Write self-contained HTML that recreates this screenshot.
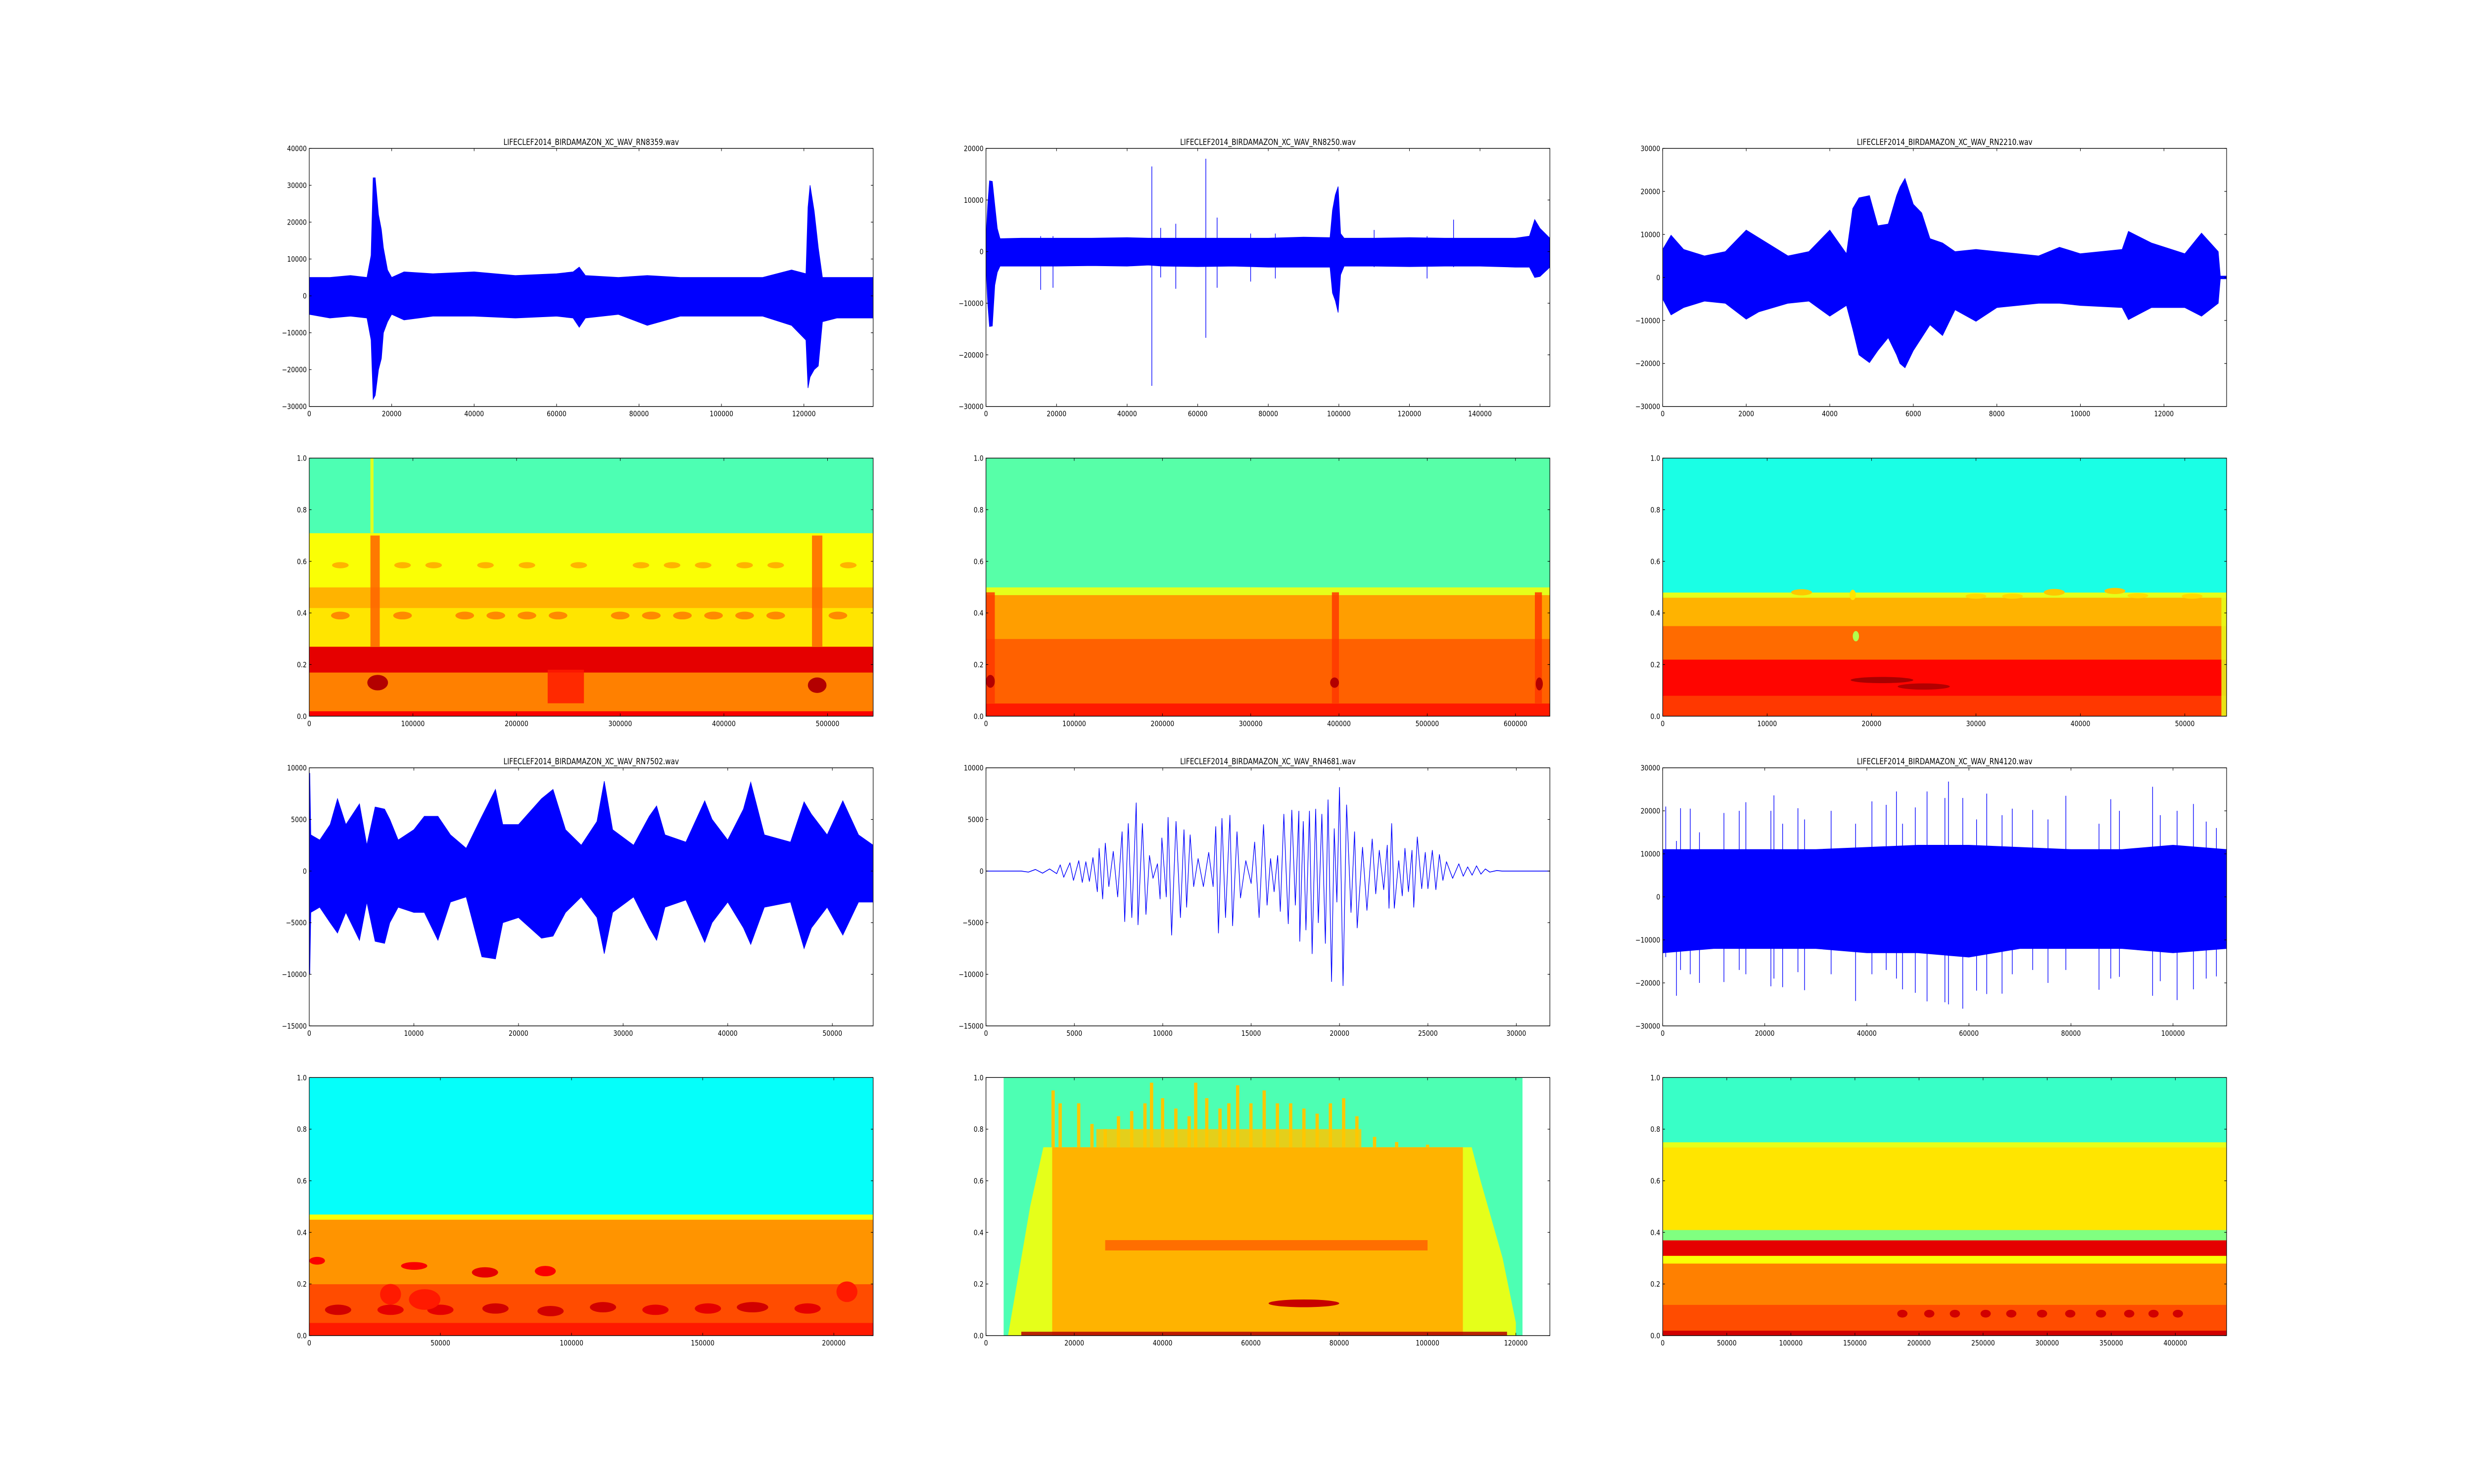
<!DOCTYPE html>
<html><head><meta charset="utf-8"><title>Bird audio waveforms and spectrograms</title>
<style>
html,body{margin:0;padding:0;background:#fff;overflow:hidden;width:100%;height:100%;}
svg{display:block;position:absolute;left:0;top:0;width:100vw;height:100vh;}
text{font-family:"DejaVu Sans","Liberation Sans",sans-serif;fill:#000;}
</style></head>
<body>
<svg id="fig" xmlns="http://www.w3.org/2000/svg" viewBox="0 0 6000 3000" preserveAspectRatio="none">
<rect x="0" y="0" width="6000" height="3000" fill="#fff"/>
</svg>
<script>
// ---------- Waveform data: [x, max, min] envelopes ----------
const w1Env = [[0,5000,-5000],[5000,5000,-6000],[10000,5500,-5500],[14000,5000,-6000],[15000,11000,-12000],[15500,32000,-28000],[16000,32000,-27000],[16800,22000,-20000],[17500,18000,-17000],[18000,13000,-10000],[19000,7000,-7000],[20000,5000,-5000],[23000,6500,-6500],[30000,6000,-5500],[40000,6500,-5500],[50000,5500,-6000],[60000,6000,-5500],[64000,6500,-6000],[65500,7800,-8500],[67000,5500,-6000],[75000,5000,-5000],[82000,5500,-8000],[90000,5000,-5500],[100000,5000,-5500],[110000,5000,-5500],[117000,7000,-8000],[120500,6000,-12000],[121000,24000,-25000],[121500,30000,-22000],[122500,23000,-20000],[123500,13000,-19000],[124500,5000,-7000],[128000,5000,-6000],[136800,5000,-6000]];
const w1Spikes = [];
const w2Env = [[0,2500,-2500],[500,9000,-10000],[1000,13700,-14500],[1800,13600,-14400],[2500,9000,-6500],[3200,4500,-4000],[4000,2500,-2800],[10000,2600,-2800],[20000,2600,-2800],[30000,2600,-2700],[40000,2700,-2800],[46000,2600,-2600],[50000,2600,-2800],[60000,2600,-2900],[70000,2600,-2800],[80000,2600,-3000],[90000,2800,-3000],[97500,2700,-3000],[98200,8000,-8000],[99000,11000,-9500],[99800,12600,-11800],[100500,3500,-4500],[101500,2600,-2800],[110000,2600,-2800],[120000,2700,-2900],[130000,2600,-2800],[140000,2600,-2800],[150000,2600,-3000],[154000,3000,-3000],[155500,6200,-5000],[157000,4500,-4800],[159800,2600,-3000]];
const w2Spikes = [[15500,3000,-7400],[19000,3000,-7000],[47000,16500,-26000],[49500,4600,-5000],[53800,5400,-7200],[62300,18000,-16700],[65500,6600,-7000],[75000,3500,-5800],[82000,3500,-5200],[110000,4200,-3000],[132500,6200,-3000],[125000,3000,-5200]];
const w3Env = [[0,6500,-5000],[200,9800,-8700],[500,6500,-7000],[1000,5000,-5500],[1500,6000,-6000],[2000,11000,-9700],[2300,9200,-8000],[3000,5000,-6000],[3500,6000,-5500],[4000,11000,-9000],[4400,5500,-6500],[4550,16000,-12000],[4700,18500,-18000],[4950,19000,-19800],[5150,12000,-17000],[5400,12400,-14000],[5600,19000,-18000],[5680,21000,-20000],[5800,23000,-21000],[6000,17000,-17000],[6200,15000,-14000],[6400,9000,-11000],[6700,8000,-13500],[7000,6000,-7500],[7500,6500,-10200],[8000,6000,-7000],[9000,5000,-6000],[9500,7000,-6000],[10000,5500,-6500],[11000,6500,-7000],[11150,10700,-9800],[11700,8000,-7000],[12500,5500,-7000],[12900,10300,-9000],[13300,6000,-6000],[13350,300,-300],[13500,300,-300]];
const w3Spikes = [];
const w4Env = [[0,3000,-5000],[50,9500,-10000],[150,3500,-4000],[1000,3000,-3500],[2000,4500,-5000],[2700,7000,-6000],[3500,4500,-4000],[4800,6500,-6700],[5500,2500,-3000],[6300,6200,-6800],[7200,6000,-7000],[7700,5000,-5000],[8500,3000,-3500],[10000,4000,-4000],[11000,5300,-4000],[12300,5300,-6700],[13500,3500,-3000],[15000,2200,-2500],[16500,5300,-8300],[17800,7900,-8500],[18500,4500,-5000],[20000,4500,-4500],[22200,7000,-6500],[23300,7900,-6300],[24500,4000,-4000],[26000,2500,-2500],[27500,4800,-4500],[28200,8700,-8000],[29000,4000,-4000],[31000,2500,-2500],[32500,5300,-5500],[33200,6300,-6700],[34000,3500,-3500],[36000,2800,-2800],[37800,6800,-6900],[38500,5000,-5000],[40000,3000,-3000],[41500,6000,-5500],[42200,8600,-7100],[43500,3500,-3500],[46000,2800,-3000],[47300,6700,-7500],[48000,5500,-5500],[49500,3500,-3500],[51000,6800,-6200],[52500,3500,-3000],[53900,2500,-3000]];
const w4Spikes = [];
// RN4681: smooth signal as extrema [x, value]
const w5X = [0,2000,2400,2800,3200,3600,4000,4200,4400,4750,4950,5250,5450,5650,5850,6050,6300,6400,6600,6750,6950,7200,7450,7700,7850,8050,8250,8500,8600,8850,9050,9250,9450,9700,9850,9950,10200,10300,10500,10750,11000,11200,11350,11550,11750,12000,12300,12600,12850,13000,13150,13350,13550,13800,13950,14200,14400,14700,15000,15200,15450,15700,15900,16100,16300,16500,16650,16850,17100,17300,17500,17700,17750,17950,18100,18300,18450,18650,18800,19000,19200,19350,19550,19700,19850,20000,20200,20400,20650,20850,21000,21300,21550,21850,22050,22250,22500,22700,22800,22950,23100,23350,23550,23700,23900,24100,24200,24400,24650,24850,25000,25250,25450,25650,25850,26050,26400,26750,27000,27250,27500,27750,28000,28250,28500,28900,29200,32000];
const w5Y = [0,0,-100,150,-200,200,-250,600,-600,800,-900,1000,-1100,900,-1000,1300,-2000,2200,-2700,2700,-1500,1900,-2500,3800,-4900,4600,-4500,6600,-5200,4600,-4200,1500,-700,700,-2700,3200,-2500,5200,-6200,4800,-4500,4000,-3500,3500,-1500,1200,-1500,1800,-1500,4300,-6000,5100,-4500,5400,-5300,3800,-2600,1000,-1200,2800,-4500,4500,-3300,1200,-2000,1500,-3900,5500,-5100,5900,-3300,5800,-6800,4800,-5700,5800,-8000,6000,-5000,5500,-7000,6900,-10700,4100,-3000,8100,-11100,6400,-4000,3800,-5500,2300,-3800,3100,-2200,2000,-1800,2500,-3600,4600,-3600,1000,-2400,2200,-2000,2000,-3500,3300,-1700,1800,-1700,2000,-1800,1600,-900,900,-700,700,-500,400,-400,500,-300,200,-100,50,0,0];
const w6Env = [[0,11000,-13000],[10000,11000,-12000],[20000,11000,-12000],[30000,11000,-12000],[40000,11500,-13000],[50000,12000,-13000],[60000,12000,-14000],[70000,11500,-12000],[80000,11000,-12000],[90000,11000,-12000],[100000,12000,-13000],[110500,11000,-12000]];
const w6Spikes = [[600,21000,-14000],[2700,13000,-23000],[3500,20600,-17000],[5400,20500,-18000],[7200,15000,-20000],[12000,19500,-19800],[15000,20000,-17000],[16300,22000,-18000],[21200,20000,-20800],[21800,23600,-19000],[23500,17000,-21000],[26500,20600,-17500],[27800,18000,-21700],[33000,20000,-18000],[37800,17000,-24200],[41000,22200,-18000],[43800,21400,-17000],[45800,24500,-19000],[47000,17000,-21500],[49500,20800,-22300],[51800,24500,-24300],[55300,23000,-24500],[56000,26800,-25000],[58800,23000,-26000],[61500,18000,-21800],[63500,24000,-22600],[66500,19000,-22500],[68500,20500,-18000],[72500,20200,-17000],[75500,18000,-20000],[79000,23500,-17000],[85500,17000,-21600],[87800,22700,-19000],[89500,20000,-18600],[96000,25600,-23000],[97500,19000,-19600],[100800,20000,-24000],[104000,21600,-21500],[106500,17500,-19000],[108500,16000,-18500]];

// ---------- Spectrogram data: bands [y0,y1,level], rects [x0,x1,y0,y1,level], blobs [x,y,rx,ry,level] ----------
const s1Bands = [[0,0.02,0.88],[0.02,0.17,0.75],[0.17,0.27,0.9],[0.27,0.42,0.65],[0.42,0.5,0.7],[0.5,0.71,0.62],[0.71,1.0,0.45]];
const s1Rects = [[59000,62000,0.71,1.0,0.62],[59000,68000,0.27,0.7,0.78],[485000,495000,0.27,0.7,0.78],[230000,265000,0.05,0.18,0.85]];
const s1Blobs = [[66000,0.13,10000,0.03,0.95],[490000,0.12,9000,0.03,0.95],[30000,0.585,8000,0.012,0.7],[90000,0.585,8000,0.012,0.7],[120000,0.585,8000,0.012,0.7],[170000,0.585,8000,0.012,0.7],[210000,0.585,8000,0.012,0.7],[260000,0.585,8000,0.012,0.7],[320000,0.585,8000,0.012,0.7],[350000,0.585,8000,0.012,0.7],[380000,0.585,8000,0.012,0.7],[420000,0.585,8000,0.012,0.7],[450000,0.585,8000,0.012,0.7],[520000,0.585,8000,0.012,0.7],[30000,0.39,9000,0.015,0.74],[90000,0.39,9000,0.015,0.74],[150000,0.39,9000,0.015,0.74],[180000,0.39,9000,0.015,0.74],[210000,0.39,9000,0.015,0.74],[240000,0.39,9000,0.015,0.74],[300000,0.39,9000,0.015,0.74],[330000,0.39,9000,0.015,0.74],[360000,0.39,9000,0.015,0.74],[390000,0.39,9000,0.015,0.74],[420000,0.39,9000,0.015,0.74],[450000,0.39,9000,0.015,0.74],[510000,0.39,9000,0.015,0.74]];
const s2Bands = [[0,0.05,0.85],[0.05,0.3,0.78],[0.3,0.47,0.72],[0.47,0.5,0.6],[0.5,1.0,0.46]];
const s2Rects = [[392000,400000,0.05,0.48,0.82],[0,10000,0.05,0.48,0.82],[622000,630000,0.05,0.48,0.82]];
const s2Blobs = [[5000,0.135,5000,0.025,0.95],[395000,0.13,5000,0.02,0.95],[627000,0.125,4000,0.025,0.95]];
const s3Bands = [[0,0.08,0.82],[0.08,0.22,0.87],[0.22,0.35,0.77],[0.35,0.46,0.7],[0.46,0.48,0.6],[0.48,1.0,0.4]];
const s3Rects = [[53500,54000,0,0.46,0.6]];
const s3Blobs = [[13300,0.48,1000,0.012,0.68],[18200,0.47,300,0.02,0.65],[30000,0.465,1000,0.01,0.66],[33500,0.465,1000,0.01,0.66],[37500,0.48,1000,0.013,0.68],[43300,0.485,1000,0.012,0.68],[45500,0.467,1000,0.01,0.66],[50700,0.465,1000,0.01,0.66],[21000,0.14,3000,0.012,0.96],[25000,0.115,2500,0.012,0.95],[18500,0.31,300,0.02,0.55]];
const s4Bands = [[0,0.05,0.85],[0.05,0.2,0.8],[0.2,0.45,0.73],[0.45,0.47,0.62],[0.47,1.0,0.38]];
const s4Rects = [];
const s4Blobs = [[11000,0.1,5000,0.02,0.92],[31000,0.1,5000,0.02,0.9],[50000,0.1,5000,0.02,0.9],[71000,0.105,5000,0.02,0.92],[92000,0.095,5000,0.02,0.92],[112000,0.11,5000,0.02,0.92],[132000,0.1,5000,0.02,0.9],[152000,0.105,5000,0.02,0.9],[169000,0.11,6000,0.02,0.92],[190000,0.105,5000,0.02,0.9],[3000,0.29,3000,0.015,0.88],[40000,0.27,5000,0.015,0.88],[67000,0.245,5000,0.02,0.9],[90000,0.25,4000,0.02,0.88],[44000,0.14,6000,0.04,0.85],[31000,0.16,4000,0.04,0.85],[205000,0.17,4000,0.04,0.85]];
const s5Bands = [[0,1.0,0.45]];
const s5Range = [4000,121500];
const s5YellowPoly = [[5000,0],[10000,0.5],[13000,0.73],[110000,0.73],[112000,0.6],[117000,0.3],[120000,0.05],[120000,0]];
const s5OrangePoly = [[15000,0],[15000,0.73],[108000,0.73],[108000,0]];
const s5Rects = [[25000,85000,0.73,0.8,0.68],[8000,118000,0,0.015,0.95],[27000,100000,0.33,0.37,0.78]];
const s5Sparks = [[15200,0.95],[16800,0.9],[21000,0.9],[24000,0.82],[27000,0.8],[30000,0.85],[33000,0.87],[36000,0.9],[37500,0.98],[40000,0.92],[43000,0.88],[46000,0.85],[47500,0.98],[50000,0.92],[53000,0.88],[55000,0.9],[57000,0.97],[60000,0.9],[63000,0.95],[66000,0.9],[69000,0.9],[72000,0.88],[75000,0.86],[78000,0.9],[81000,0.92],[84000,0.85],[88000,0.77],[93000,0.75],[100000,0.74]];
const s5Blobs = [[72000,0.125,8000,0.015,0.93]];
const s6Bands = [[0,0.02,0.92],[0.02,0.12,0.8],[0.12,0.28,0.75],[0.28,0.31,0.62],[0.31,0.37,0.9],[0.37,0.41,0.5],[0.41,0.73,0.65],[0.73,0.75,0.6],[0.75,1.0,0.43]];
const s6Rects = [];
const s6Blobs = [[187000,0.085,4000,0.015,0.92],[208000,0.085,4000,0.015,0.92],[228000,0.085,4000,0.015,0.92],[252000,0.085,4000,0.015,0.92],[272000,0.085,4000,0.015,0.92],[296000,0.085,4000,0.015,0.92],[318000,0.085,4000,0.015,0.92],[342000,0.085,4000,0.015,0.92],[364000,0.085,4000,0.015,0.92],[383000,0.085,4000,0.015,0.92],[402000,0.085,4000,0.015,0.92]];

// ---------- Axis limits & ticks ----------
const titles = ["LIFECLEF2014_BIRDAMAZON_XC_WAV_RN8359.wav","LIFECLEF2014_BIRDAMAZON_XC_WAV_RN8250.wav","LIFECLEF2014_BIRDAMAZON_XC_WAV_RN2210.wav","LIFECLEF2014_BIRDAMAZON_XC_WAV_RN7502.wav","LIFECLEF2014_BIRDAMAZON_XC_WAV_RN4681.wav","LIFECLEF2014_BIRDAMAZON_XC_WAV_RN4120.wav"];
const waveXMax = [136800,159800,13500,53900,31900,110500];
const waveXStep = [20000,20000,2000,10000,5000,20000];
const waveYMin = [-30000,-30000,-30000,-15000,-15000,-30000];
const waveYMax = [40000,20000,30000,10000,10000,30000];
const waveYStep = [10000,10000,10000,5000,5000,10000];
const specXMax = [544000,639000,54000,215000,127700,440000];
const specXStep = [100000,100000,10000,50000,20000,50000];
const specYTicks = [0.0,0.2,0.4,0.6,0.8,1.0];

// ---------- Layout ----------
const NS = "http://www.w3.org/2000/svg";
const svg = document.getElementById('fig');
const colLeft = [750, 2391.2, 4032.4], AXW = 1367.6;
const rowTop = [300, 926.1, 1552.2, 2178.3], AXH = 521.7;

function el(tag, attrs, parent){
  const e = document.createElementNS(NS, tag);
  for (const k in attrs) e.setAttribute(k, attrs[k]);
  (parent||svg).appendChild(e);
  return e;
}
function jet(v){
  const c = t => Math.max(0, Math.min(1, t));
  const r = c(1.5 - Math.abs(4*v-3)), g = c(1.5 - Math.abs(4*v-2)), b = c(1.5 - Math.abs(4*v-1));
  return 'rgb(' + Math.round(r*255) + ',' + Math.round(g*255) + ',' + Math.round(b*255) + ')';
}
function fmt(v){
  let s = (Math.abs(v) < 1e-9) ? '0' : String(v);
  return s.replace('-', '\u2212');
}
function fmt1(v){ return v.toFixed(1); }

function makeAxes(idx, x0, y0, xmax, ymin, ymax, xStep, yTicks, yFmt, title){
  const g = el('g', {});
  
  
  const sx = v => x0 + v / xmax * AXW;
  const sy = v => y0 + AXH - (v - ymin) / (ymax - ymin) * AXH;
  const clipId = 'clip' + idx;
  const cp = el('clipPath', {id: clipId}, g);
  el('rect', {x: x0, y: y0, width: AXW, height: AXH}, cp);
  const plot = el('g', {'clip-path': 'url(#' + clipId + ')'}, g);
  
  
  return {g, plot, sx, sy, x0, y0, xmax, ymin, ymax, xStep, yTicks, yFmt, title, idx};
}
function finishAxes(a){
  const g = a.g;
  const frame = el('rect', {x: a.x0, y: a.y0, width: AXW, height: AXH, fill: 'none', stroke: '#000', 'stroke-width': 1.4}, g);
  
  
  for (let v = 0; v <= a.xmax + 1e-6; v += a.xStep){
    const x = a.sx(v);
    el('line', {x1: x, y1: a.y0 + AXH, x2: x, y2: a.y0 + AXH - 5.5, stroke: '#000', 'stroke-width': 1.2}, g);
    el('line', {x1: x, y1: a.y0, x2: x, y2: a.y0 + 5.5, stroke: '#000', 'stroke-width': 1.2}, g);
    const t = el('text', {x: x, y: a.y0 + AXH + 20, 'font-size': 15, 'text-anchor': 'middle'}, g);
    
    
    t.textContent = fmt(v);
  }
  for (const v of a.yTicks){
    const y = a.sy(v);
    el('line', {x1: a.x0, y1: y, x2: a.x0 + 5.5, y2: y, stroke: '#000', 'stroke-width': 1.2}, g);
    el('line', {x1: a.x0 + AXW, y1: y, x2: a.x0 + AXW - 5.5, y2: y, stroke: '#000', 'stroke-width': 1.2}, g);
    const t = el('text', {x: a.x0 - 6, y: y + 5.5, 'font-size': 15, 'text-anchor': 'end'}, g);
    
    
    t.textContent = a.yFmt(v);
  }
  if (a.title){
    const t = el('text', {x: a.x0 + AXW/2, y: a.y0 - 7, 'font-size': 16.5, 'text-anchor': 'middle'}, g);
    
    
    t.textContent = a.title;
  }
}

function drawEnvelope(a, env){
  let d = '';
  env.forEach((p,i) => { d += (i ? 'L' : 'M') + a.sx(p[0]).toFixed(1) + ' ' + a.sy(p[1]).toFixed(1); });
  for (let i = env.length - 1; i >= 0; i--) d += 'L' + a.sx(env[i][0]).toFixed(1) + ' ' + a.sy(env[i][2]).toFixed(1);
  d += 'Z';
  const p = el('path', {d: d, fill: '#0000ff', stroke: '#0000ff', 'stroke-width': 1.4, 'stroke-linejoin': 'miter'}, a.plot);
  
  
}
function drawSpikes(a, spikes){
  for (const s of spikes){
    const l = el('line', {x1: a.sx(s[0]), x2: a.sx(s[0]), y1: a.sy(s[1]), y2: a.sy(s[2]), stroke: '#0000ff', 'stroke-width': 1.6}, a.plot);
    
    
  }
}
function drawLine(a, xs, ys){
  let d = '';
  xs.forEach((x,i) => { d += (i ? 'L' : 'M') + a.sx(x).toFixed(1) + ' ' + a.sy(ys[i]).toFixed(1); });
  const p = el('path', {d: d, fill: 'none', stroke: '#0000ff', 'stroke-width': 1.6, 'stroke-linejoin': 'round'}, a.plot);
  
  
}
function drawBands(a, bands, xr){
  const xa = xr ? a.sx(xr[0]) : a.x0, xb = xr ? a.sx(xr[1]) : a.x0 + AXW;
  for (const b of bands){
    const y1 = a.sy(b[1]), y0 = a.sy(b[0]);
    const r = el('rect', {x: xa, y: y1, width: xb - xa, height: y0 - y1 + 0.5, fill: jet(b[2])}, a.plot);
    
    
  }
}
function drawRects(a, rects){
  for (const b of rects){
    const x = a.sx(b[0]), w = a.sx(b[1]) - x, y = a.sy(b[3]), h = a.sy(b[2]) - y;
    const r = el('rect', {x: x, y: y, width: Math.max(w,1.5), height: h, fill: jet(b[4]), opacity: 0.85}, a.plot);
    
    
  }
}
function drawBlobs(a, blobs){
  for (const b of blobs){
    const rx = a.sx(b[2]) - a.sx(0), ry = a.sy(0) - a.sy(b[3]);
    const e = el('ellipse', {cx: a.sx(b[0]), cy: a.sy(b[1]), rx: Math.max(rx,2), ry: Math.max(ry,2), fill: jet(b[4])}, a.plot);
    
    
  }
}
function drawPoly(a, pts, v){
  const p = el('polygon', {points: pts.map(q => a.sx(q[0]).toFixed(1) + ',' + a.sy(q[1]).toFixed(1)).join(' '), fill: jet(v)}, a.plot);
  
  
}
function drawSparks(a, sparks){
  for (const s of sparks){
    const x = a.sx(s[0]), y = a.sy(s[1]), yb = a.sy(0.73);
    const r = el('rect', {x: x - 4, y: y, width: 8, height: yb - y, fill: jet(0.68)}, a.plot);
    
    
  }
}
function ticksFrom(min, max, step){ const t = []; for (let v = min; v <= max + 1e-6; v += step) t.push(v); return t; }

// ---------- Waveform panels (rows 1 and 3) ----------
const waveEnv = [w1Env, w2Env, w3Env, w4Env, null, w6Env];
const waveSpk = [w1Spikes, w2Spikes, w3Spikes, w4Spikes, [], w6Spikes];
for (let i = 0; i < 6; i++){
  const row = i < 3 ? 0 : 2, col = i % 3;
  const a = makeAxes('wave' + i, colLeft[col], rowTop[row], waveXMax[i], waveYMin[i], waveYMax[i], waveXStep[i], ticksFrom(waveYMin[i], waveYMax[i], waveYStep[i]), fmt, titles[i]);
  if (i === 4) drawLine(a, w5X, w5Y);
  else { drawEnvelope(a, waveEnv[i]); drawSpikes(a, waveSpk[i]); }
  finishAxes(a);
}

// ---------- Spectrogram panels (rows 2 and 4) ----------
const specBands = [s1Bands, s2Bands, s3Bands, s4Bands, s5Bands, s6Bands];
const specRects = [s1Rects, s2Rects, s3Rects, s4Rects, s5Rects, s6Rects];
const specBlobs = [s1Blobs, s2Blobs, s3Blobs, s4Blobs, s5Blobs, s6Blobs];
for (let i = 0; i < 6; i++){
  const row = i < 3 ? 1 : 3, col = i % 3;
  const a = makeAxes('spec' + i, colLeft[col], rowTop[row], specXMax[i], 0, 1, specXStep[i], specYTicks, fmt1, null);
  if (i === 4){
    drawBands(a, s5Bands, s5Range);
    drawPoly(a, s5YellowPoly, 0.6);
    drawPoly(a, s5OrangePoly, 0.7);
    drawSparks(a, s5Sparks);
    drawRects(a, s5Rects);
    drawBlobs(a, s5Blobs);
  } else {
    drawBands(a, specBands[i]);
    drawRects(a, specRects[i]);
    drawBlobs(a, specBlobs[i]);
  }
  finishAxes(a);
}
</script>
</body></html>
